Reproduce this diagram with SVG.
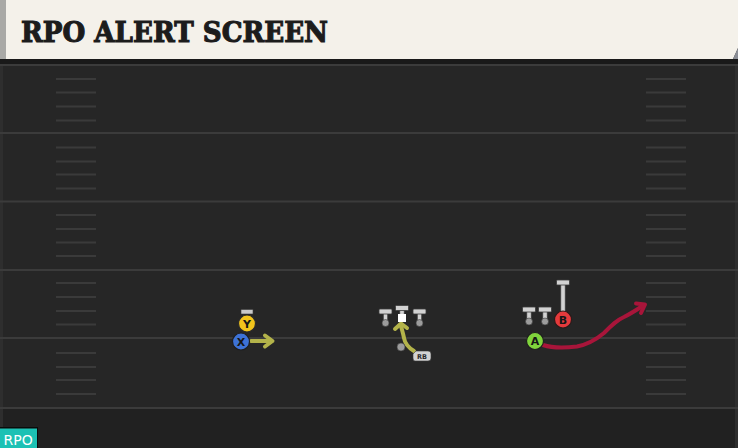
<svg xmlns="http://www.w3.org/2000/svg" width="738" height="448" viewBox="0 0 738 448">
<style>
.yard{stroke:#3b3b3b;stroke-width:2}
.hash{stroke:#3a3a3a;stroke-width:2}
.ball{fill:#9c9c9c;stroke:#3a3a3a;stroke-width:0.6}
.lbl{font-family:"DejaVu Sans",sans-serif;font-weight:bold;font-size:11px;text-anchor:middle;fill:#161616}
.route{fill:none;stroke-linecap:round;stroke-linejoin:round;stroke-width:4}
</style>
<defs>
<g id="tee" fill="#d2d2d2" stroke="#3a3a3a" stroke-width="0.8">
<rect x="-2.25" y="3" width="4.5" height="11"/>
<rect x="-6.5" y="0" width="13" height="5" rx="1"/>
</g>
</defs>
<rect width="738" height="448" fill="#262626"/>
<rect x="0" y="408" width="738" height="40" fill="#212121"/>
<rect x="0" y="0" width="3" height="448" fill="#2e2e2e"/>
<rect x="735" y="60" width="3" height="388" fill="#2e2e2e"/>
<rect x="0" y="58" width="738" height="6" fill="#191919"/>
<g id="field">
<line class="yard" x1="0" y1="65" x2="738" y2="65"/>
<line class="yard" x1="0" y1="133" x2="738" y2="133"/>
<line class="yard" x1="0" y1="201.5" x2="738" y2="201.5"/>
<line class="yard" x1="0" y1="270" x2="738" y2="270"/>
<line class="yard" x1="0" y1="338" x2="738" y2="338"/>
<line class="yard" x1="0" y1="408" x2="738" y2="408"/>
<g class="hash">
<path d="M56 79H96M56 92.5H96M56 106.5H96M56 120.5H96M56 147.5H96M56 161.5H96M56 174.5H96M56 188.5H96M56 215H96M56 229H96M56 242.5H96M56 256H96M56 283H96M56 297H96M56 311H96M56 324.5H96M56 353H96M56 367H96M56 380H96M56 394H96"/>
<path d="M646 79H686M646 92.5H686M646 106.5H686M646 120.5H686M646 147.5H686M646 161.5H686M646 174.5H686M646 188.5H686M646 215H686M646 229H686M646 242.5H686M646 256H686M646 283H686M646 297H686M646 311H686M646 324.5H686M646 353H686M646 367H686M646 380H686M646 394H686"/>
</g>
</g>
<g id="header">
<rect x="0" y="0" width="6" height="59" fill="#a9a9a6"/>
<path d="M6 0H738V48L733 59H6Z" fill="#f4f1ea"/>
<path d="M738 48L733 59H738Z" fill="#8a8d95"/>
<text x="21" y="42" font-family="'DejaVu Serif',serif" font-weight="bold" font-size="27" textLength="307" lengthAdjust="spacingAndGlyphs" fill="#1c1c1c" stroke="#1c1c1c" stroke-width="1.1">RPO ALERT SCREEN</text>
</g>
<g id="connectors">
<path class="route" d="M251 341H268" stroke="#b3b34a"/>
<path class="route" d="M265 335.5L272.5 341L265 346.5" stroke="#b3b34a"/>
<path class="route" d="M414 351C409 348 405 344 404 338C403 333 402 330 401 326" stroke="#b3b34a"/>
<path class="route" d="M395 329L401 323.5L407 328" stroke="#b3b34a"/>
<path class="route" d="M543 345C552 348 565 348 577 346.5C590 344 598 338 604 333C612 325 617 320 624 317C632 313 638 309 644 305" stroke="#a8153a"/>
<path class="route" d="M636 303.5L645 304.5L641 313" stroke="#a8153a"/>
</g>
<g id="node-Y">
<rect x="241" y="309.5" width="12" height="4.5" fill="#c9c9c9" stroke="#3a3a3a" stroke-width="0.6"/>
<circle cx="247" cy="323.5" r="8.5" fill="#f2c41c" stroke="#2a2a2a" stroke-width="1.2"/>
<text class="lbl" x="247" y="327.5">Y</text>
</g>
<g id="node-X">
<circle cx="241" cy="341.5" r="8.5" fill="#3d72d6" stroke="#1e1e1e" stroke-width="1.2"/>
<text class="lbl" x="241" y="345.5">X</text>
</g>
<g id="node-LT"><use href="#tee" x="385.5" y="309"/><circle class="ball" cx="385.5" cy="323" r="3.5"/></g>
<g id="node-C"><use href="#tee" x="402" y="305.5"/><rect x="398" y="314" width="8" height="8" fill="#ffffff"/></g>
<g id="node-RT"><use href="#tee" x="419.5" y="309"/><circle class="ball" cx="419.5" cy="323" r="3.5"/></g>
<g id="node-RB">
<circle cx="401" cy="347" r="4" fill="#9c9c9c" stroke="#3a3a3a" stroke-width="0.6"/>
<path d="M416 351H428Q431 351 431 354V358Q431 361 428 361H415Q413 361 413 358V354Z" fill="#d2d2d2" stroke="#3a3a3a" stroke-width="0.6"/>
<text x="422" y="358.8" font-family="'DejaVu Sans',sans-serif" font-weight="bold" font-size="6.5" text-anchor="middle" fill="#2a2a2a">RB</text>
</g>
<g id="node-T1"><use href="#tee" x="529" y="307"/><circle class="ball" cx="529" cy="321.5" r="3.5"/></g>
<g id="node-T2"><use href="#tee" x="545" y="307"/><circle class="ball" cx="545" cy="321.5" r="3.5"/></g>
<g id="node-B">
<rect x="560.75" y="283" width="4.5" height="30" fill="#d2d2d2" stroke="#3a3a3a" stroke-width="0.8"/>
<rect x="556.5" y="280" width="13" height="5" rx="1" fill="#d2d2d2" stroke="#3a3a3a" stroke-width="0.8"/>
<circle cx="563" cy="319.5" r="8.5" fill="#e43a3c" stroke="#2a1a1a" stroke-width="1.2"/>
<text class="lbl" x="563" y="323.5" fill="#5e0c0c">B</text>
</g>
<g id="node-A">
<circle cx="535" cy="341" r="8.5" fill="#80d43c" stroke="#1e1e1e" stroke-width="1.2"/>
<text class="lbl" x="535" y="345">A</text>
</g>
<g id="tag-RPO">
<rect x="0" y="427" width="38" height="21" fill="#0b0b0b"/>
<rect x="0" y="428.5" width="37" height="19.5" fill="#1cc1b4"/>
<text x="3.5" y="444.5" font-family="'DejaVu Sans',sans-serif" font-size="14" fill="#ffffff">RPO</text>
</g>
</svg>
